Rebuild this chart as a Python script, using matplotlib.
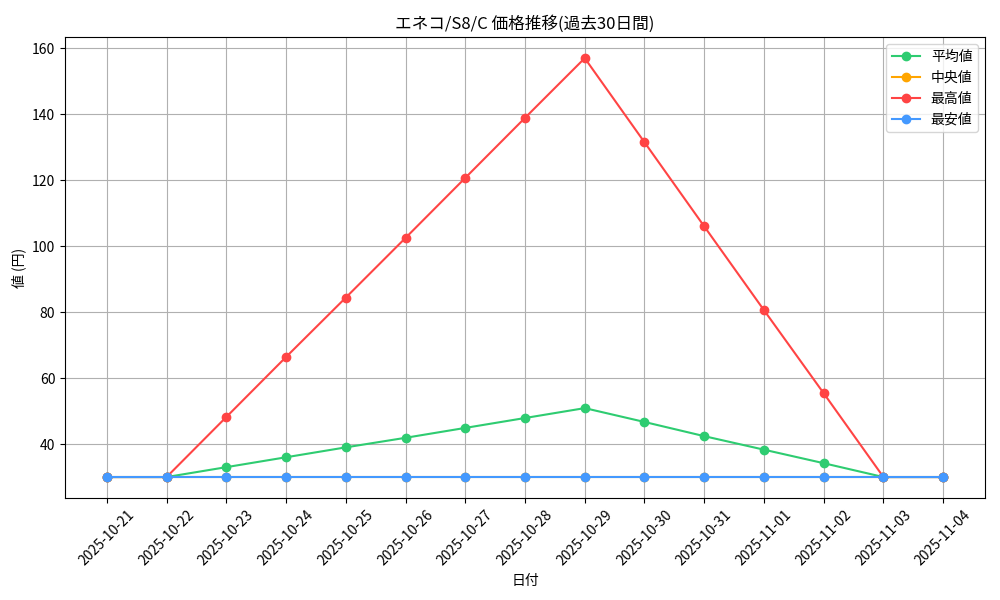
import matplotlib
matplotlib.use('Agg')
import matplotlib.pyplot as plt

plt.rcParams['font.family'] = ['Noto Sans CJK JP', 'DejaVu Sans']

dates = ['2025-10-21', '2025-10-22', '2025-10-23', '2025-10-24', '2025-10-25',
         '2025-10-26', '2025-10-27', '2025-10-28', '2025-10-29', '2025-10-30',
         '2025-10-31', '2025-11-01', '2025-11-02', '2025-11-03', '2025-11-04']
avg_vals = [30, 30, 33, 36, 39, 41.9, 44.9, 47.9, 50.9, 46.7, 42.4, 38.3, 34.2, 30, 30]
median_vals = [30] * 15
max_vals = [30, 30, 48.2, 66.4, 84.4, 102.5, 120.7, 138.9, 157.0, 131.5, 106.0, 80.6, 55.4, 30, 30]
min_vals = [30] * 15

fig, ax = plt.subplots(figsize=(10, 6), dpi=100)
ax.plot(dates, avg_vals, marker='o', color='#2ecc71', label='平均値')
ax.plot(dates, median_vals, marker='o', color='#ffa500', label='中央値')
ax.plot(dates, max_vals, marker='o', color='#ff4444', label='最高値')
ax.plot(dates, min_vals, marker='o', color='#4499ff', label='最安値')

ax.set_title('エネコ/S8/C 価格推移(過去30日間)')
ax.set_xlabel('日付')
ax.set_ylabel('値 (円)')
ax.grid(True)
ax.legend(loc='upper right')
plt.xticks(rotation=45)
plt.subplots_adjust(left=0.065, right=0.985, top=0.938, bottom=0.17)
plt.savefig('out.png', dpi=100)
